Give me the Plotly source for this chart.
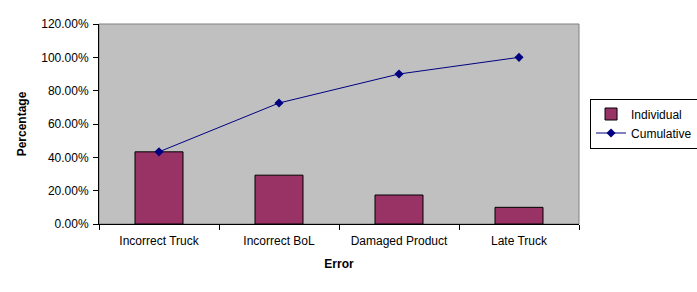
import plotly.graph_objects as go

categories = ["Incorrect Truck", "Incorrect BoL", "Damaged Product", "Late Truck"]
individual = [0.433, 0.293, 0.174, 0.100]
cumulative = [0.433, 0.726, 0.900, 1.000]
y_ticks = [0, 0.2, 0.4, 0.6, 0.8, 1.0, 1.2]

fig = go.Figure()
fig.add_trace(go.Bar(
    x=categories, y=individual, name="Individual", width=0.4,
    marker=dict(color="#993366", line=dict(color="black", width=1)),
))
fig.add_trace(go.Scatter(
    x=categories, y=cumulative, name="Cumulative", mode="lines+markers",
    line=dict(color="#000080", width=1),
    marker=dict(symbol="diamond", size=7, color="#000080"),
))

font = dict(family="Arial, Liberation Sans, sans-serif", size=12, color="black")
fig.update_layout(
    width=697, height=292,
    margin=dict(l=99, r=118, t=24, b=68, autoexpand=False),
    paper_bgcolor="white", plot_bgcolor="#C0C0C0",
    font=font,
    showlegend=True,
    legend=dict(x=1.023, y=0.5025, xanchor="left", yanchor="middle",
                bordercolor="black", borderwidth=1, bgcolor="white",
                font=dict(size=12), tracegroupgap=0, itemwidth=30),
)
fig.update_xaxes(
    type="category", tickson="boundaries", ticks="outside", ticklen=5,
    tickcolor="black", showline=True, linecolor="black", linewidth=1,
    showgrid=False, range=[-0.5, 3.5], ticklabelstandoff=6,
    title=dict(text="<b>Error</b>", standoff=12, font=dict(size=12)),
)
fig.update_yaxes(
    range=[0, 1.2], tickvals=y_ticks, tickformat=".2%",
    ticks="outside", ticklen=5, tickcolor="black",
    showline=True, linecolor="black", linewidth=1, showgrid=False,
    zeroline=False, ticklabelstandoff=2,
    title=dict(text="<b>Percentage</b>", standoff=12, font=dict(size=12)),
)
fig.add_shape(type="rect", xref="paper", yref="paper", x0=0, y0=0, x1=1, y1=1,
              line=dict(color="#808080", width=1), layer="below")
fig.write_html("out.html")
